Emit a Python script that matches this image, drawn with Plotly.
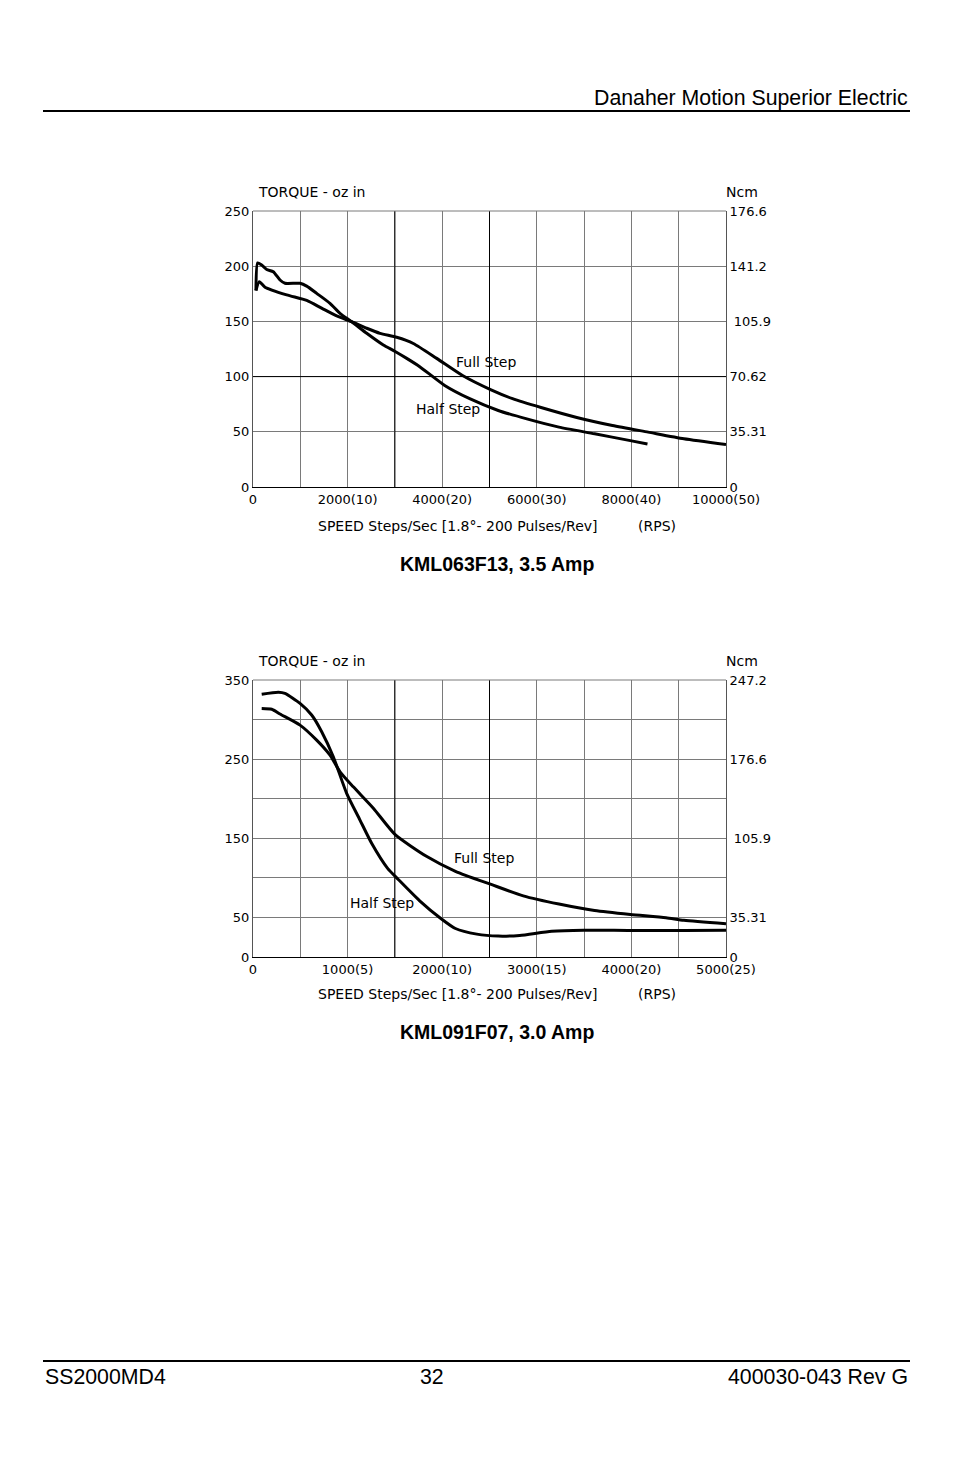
import plotly.graph_objects as go

# page body has an 8px margin; figure fills the rest of the 954x1475 window
OFF = 8
W, H = 954 - OFF, 1475 - OFF

# ---------------- data ----------------
# Chart 1: KML063F13, 3.5 Amp  (speed steps/sec, torque oz-in)
c1_half_x = [63, 99, 184, 290, 429, 571, 677, 994, 1135, 1347, 1628, 1839, 2086, 2404, 2755, 2996, 3250, 3525, 4053, 4581, 5185, 5789, 6468, 7223, 7977, 8340]
c1_half_y = [178, 203, 201, 197, 195, 187.5, 184.5, 184.5, 182, 175.4, 166.4, 157.3, 149.7, 139.2, 128.6, 123, 116.5, 109, 92, 80, 69.3, 61.7, 54.2, 48.2, 42, 39]
c1_full_x = [63, 133, 254, 712, 1135, 1450, 1769, 2086, 2404, 2685, 3038, 3389, 3884, 4430, 5034, 5487, 6090, 6845, 7600, 8355, 9110, 10000]
c1_full_y = [178, 186, 181, 174, 169, 162, 155, 149.7, 143.8, 139.2, 135.6, 130, 116.5, 101, 88, 80, 72, 63, 55.7, 49.7, 43.7, 38.5]

# Chart 2: KML091F07, 3.0 Amp
c2_half_x = [92, 268, 338, 497, 620, 726, 849, 990, 1131, 1254, 1423, 1536, 1762, 1989, 2140, 2366, 2592, 2819, 3158, 3498, 3989, 4555, 5000]
c2_half_y = [332, 334.5, 333, 320.5, 305.8, 284.7, 253, 206.8, 173, 143.7, 112, 98, 71, 48.3, 36, 28.9, 26.4, 27.3, 32.6, 33.9, 33.5, 33.5, 33.9]
c2_full_x = [92, 198, 285, 497, 673, 814, 920, 1060, 1272, 1500, 1838, 2140, 2517, 2857, 3234, 3611, 3989, 4366, 4555, 5000]
c2_full_y = [314, 313, 307, 293, 274, 255, 234, 215, 188, 155, 126.9, 108.3, 91.7, 77.3, 66.9, 58.7, 53.7, 49.6, 46.3, 42.1]

c1_xticks = [0, 1000, 2000, 3000, 4000, 5000, 6000, 7000, 8000, 9000, 10000]
c1_xtext = ["0", "", "2000(10)", "", "4000(20)", "", "6000(30)", "", "8000(40)", "", "10000(50)"]
c1_yticks = [0, 50, 100, 150, 200, 250]
c1_ytext = ["0", "50", "100", "150", "200", "250"]
c1_ncm = ["0", "35.31", "70.62", " 105.9", "141.2", "176.6"]

c2_xticks = [0, 500, 1000, 1500, 2000, 2500, 3000, 3500, 4000, 4500, 5000]
c2_xtext = ["0", "", "1000(5)", "", "2000(10)", "", "3000(15)", "", "4000(20)", "", "5000(25)"]
c2_yticks = [0, 50, 100, 150, 200, 250, 300, 350]
c2_ytext = ["0", "50", "", "150", "", "250", "", "350"]
c2_ncm = ["0", "35.31", "", " 105.9", "", "176.6", "", "247.2"]

titles = ["KML063F13, 3.5 Amp", "KML091F07, 3.0 Amp"]


def px(x):
    return (x - OFF) / W


def py(y):
    return 1 - (y - OFF) / H


FONT = "DejaVu Sans"
fig = go.Figure()

line = dict(color="black", width=3, shape="spline", smoothing=0.6)
fig.add_trace(go.Scatter(x=c1_full_x, y=c1_full_y, mode="lines", line=line, name="Full Step", xaxis="x", yaxis="y"))
fig.add_trace(go.Scatter(x=c1_half_x, y=c1_half_y, mode="lines", line=line, name="Half Step", xaxis="x", yaxis="y"))
fig.add_trace(go.Scatter(x=c2_full_x, y=c2_full_y, mode="lines", line=line, name="Full Step", xaxis="x2", yaxis="y3"))
fig.add_trace(go.Scatter(x=c2_half_x, y=c2_half_y, mode="lines", line=line, name="Half Step", xaxis="x2", yaxis="y3"))
# invisible traces to activate right axes
fig.add_trace(go.Scatter(x=[0], y=[0], mode="markers", marker=dict(opacity=0), xaxis="x", yaxis="y2", showlegend=False, hoverinfo="skip"))
fig.add_trace(go.Scatter(x=[0], y=[0], mode="markers", marker=dict(opacity=0), xaxis="x2", yaxis="y4", showlegend=False, hoverinfo="skip"))

GRID = "#7a7a7a"
tickfont = dict(family=FONT, size=13, color="black")
xdom = [px(253), px(726)]

common_x = dict(showgrid=True, gridcolor=GRID, gridwidth=1, zeroline=False, showline=True, automargin=False,
                linecolor="black", linewidth=1, ticks="", tickfont=tickfont, tickangle=0)
common_y = dict(showgrid=True, gridcolor=GRID, gridwidth=1, zeroline=False, showline=True, automargin=False,
                linecolor="#555555", linewidth=1, ticks="", tickfont=tickfont, ticklabelstandoff=0)
right_y = dict(showgrid=False, zeroline=False, showline=True, linecolor="#555555", ticks="", tickfont=tickfont,
               ticklabelstandoff=0, automargin=False)

fig.update_layout(
    width=W, height=H, margin=dict(l=0, r=0, t=0, b=0, pad=0, autoexpand=False), autosize=False,
    paper_bgcolor="white", plot_bgcolor="white", showlegend=False,
    xaxis=dict(domain=xdom, range=[0, 10000], tickvals=c1_xticks, ticktext=c1_xtext, anchor="y", **common_x),
    yaxis=dict(domain=[py(487), py(211)], range=[0, 250], tickvals=c1_yticks, ticktext=c1_ytext, anchor="x", **common_y),
    yaxis2=dict(overlaying="y", side="right", anchor="x", range=[0, 250], tickvals=c1_yticks, ticktext=c1_ncm, **right_y),
    xaxis2=dict(domain=xdom, range=[0, 5000], tickvals=c2_xticks, ticktext=c2_xtext, anchor="y3", **common_x),
    yaxis3=dict(domain=[py(957), py(680)], range=[0, 350], tickvals=c2_yticks, ticktext=c2_ytext, anchor="x2", **common_y),
    yaxis4=dict(overlaying="y3", side="right", anchor="x2", range=[0, 350], tickvals=c2_yticks, ticktext=c2_ncm, **right_y),
)

shapes = []
# dark grid lines
for xv in [3000, 5000]:
    shapes.append(dict(type="line", xref="x", yref="y domain", x0=xv, x1=xv, y0=0, y1=1, line=dict(color="black", width=1)))
shapes.append(dict(type="line", xref="x domain", yref="y", x0=0, x1=1, y0=100, y1=100, line=dict(color="black", width=1)))
for xv in [1500, 2500]:
    shapes.append(dict(type="line", xref="x2", yref="y3 domain", x0=xv, x1=xv, y0=0, y1=1, line=dict(color="black", width=1)))
# top frame lines
shapes.append(dict(type="line", xref="x domain", yref="y domain", x0=0, x1=1, y0=1, y1=1, line=dict(color=GRID, width=1)))
shapes.append(dict(type="line", xref="x2 domain", yref="y3 domain", x0=0, x1=1, y0=1, y1=1, line=dict(color=GRID, width=1)))
# page rules
shapes.append(dict(type="line", xref="paper", yref="paper", x0=px(43), x1=px(910), y0=py(111), y1=py(111), line=dict(color="black", width=2)))
shapes.append(dict(type="line", xref="paper", yref="paper", x0=px(43), x1=px(910), y0=py(1361), y1=py(1361), line=dict(color="black", width=2)))
fig.update_layout(shapes=shapes)

ann = []


def text(x, y, s, xanchor="left", size=14, family=FONT, xref="paper", yref="paper", conv=True):
    ann.append(dict(x=px(x) if conv else x, y=py(y) if conv else y, xref=xref, yref=yref, text=s, showarrow=False,
                    xanchor=xanchor, yanchor="middle", font=dict(family=family, size=size, color="black")))


PAGE = "Liberation Sans"
text(910, 98, "Danaher Motion Superior Electric", xanchor="right", size=21.3, family=PAGE)
text(43, 1377, "SS2000MD4", size=21.3, family=PAGE)
text(432, 1377, "32", xanchor="center", size=21.3, family=PAGE)
text(910, 1377, "400030-043 Rev G", xanchor="right", size=21.3, family=PAGE)

for top, sp_y, t_y, title in [(192, 526, 564, titles[0]), (661, 994, 1032, titles[1])]:
    text(256, top, "TORQUE - oz in")
    text(724, top, "Ncm")
    text(316, sp_y, "SPEED Steps/Sec [1.8°- 200 Pulses/Rev]")
    text(636, sp_y, "(RPS)")
    text(497, t_y, "<b>" + title + "</b>", xanchor="center", size=19.5, family=PAGE)

# curve labels in data coordinates
text(4926, 113, "Full Step", xanchor="center", xref="x", yref="y", conv=False)
text(4123, 70.7, "Half Step", xanchor="center", xref="x", yref="y", conv=False)
text(2442, 125, "Full Step", xanchor="center", xref="x2", yref="y3", conv=False)
text(1364, 68.2, "Half Step", xanchor="center", xref="x2", yref="y3", conv=False)

fig.update_layout(annotations=ann)
fig.write_html("out.html")
